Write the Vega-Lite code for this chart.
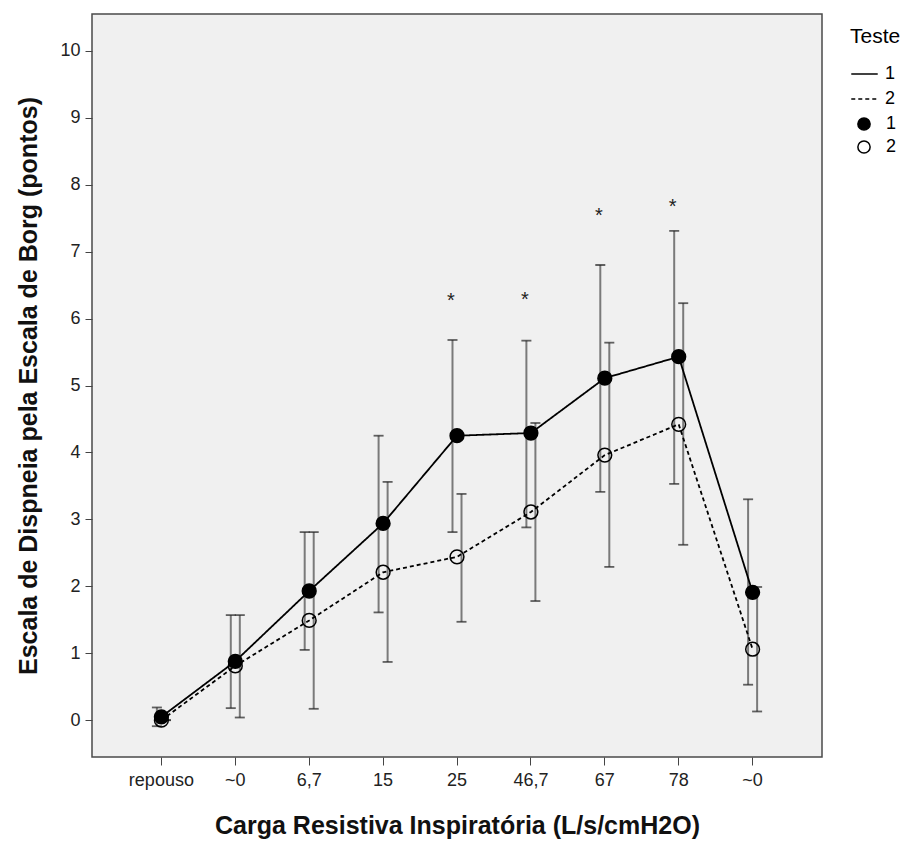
{
  "$schema": "https://vega.github.io/schema/vega-lite/v6.json",
  "width": 730,
  "height": 743,
  "autosize": {"type": "none"},
  "padding": {"left": 92, "top": 14, "right": 86, "bottom": 85},
  "background": "white",
  "config": {
    "font": "Liberation Sans",
    "view": {"fill": "#f0f0f0", "stroke": "#4a4a4a", "strokeWidth": 1.5},
    "axis": {"domain": false, "grid": false, "tickColor": "#444444", "labelColor": "#222222", "titleColor": "#111111", "labelFontSize": 18, "titleFontSize": 25, "titleFontWeight": "bold"}
  },
  "datasets": {
    "dados": [
      {"carga": "repouso", "teste": "1", "media": 0.05, "inf": -0.09, "sup": 0.19},
      {"carga": "~0", "teste": "1", "media": 0.88, "inf": 0.18, "sup": 1.57},
      {"carga": "6,7", "teste": "1", "media": 1.93, "inf": 1.05, "sup": 2.81},
      {"carga": "15", "teste": "1", "media": 2.94, "inf": 1.61, "sup": 4.25},
      {"carga": "25", "teste": "1", "media": 4.25, "inf": 2.81, "sup": 5.68},
      {"carga": "46,7", "teste": "1", "media": 4.29, "inf": 2.88, "sup": 5.67},
      {"carga": "67", "teste": "1", "media": 5.11, "inf": 3.41, "sup": 6.80},
      {"carga": "78", "teste": "1", "media": 5.43, "inf": 3.53, "sup": 7.31},
      {"carga": "~0 (pós)", "teste": "1", "media": 1.91, "inf": 0.53, "sup": 3.30},
      {"carga": "repouso", "teste": "2", "media": 0.0, "inf": 0.0, "sup": 0.0},
      {"carga": "~0", "teste": "2", "media": 0.81, "inf": 0.04, "sup": 1.57},
      {"carga": "6,7", "teste": "2", "media": 1.49, "inf": 0.17, "sup": 2.81},
      {"carga": "15", "teste": "2", "media": 2.21, "inf": 0.87, "sup": 3.56},
      {"carga": "25", "teste": "2", "media": 2.44, "inf": 1.47, "sup": 3.38},
      {"carga": "46,7", "teste": "2", "media": 3.11, "inf": 1.78, "sup": 4.44},
      {"carga": "67", "teste": "2", "media": 3.96, "inf": 2.29, "sup": 5.64},
      {"carga": "78", "teste": "2", "media": 4.42, "inf": 2.62, "sup": 6.23},
      {"carga": "~0 (pós)", "teste": "2", "media": 1.06, "inf": 0.13, "sup": 1.99}
    ],
    "asteriscos": [
      {"carga": "25", "y": 6.32, "txt": "*"},
      {"carga": "46,7", "y": 6.34, "txt": "*"},
      {"carga": "67", "y": 7.59, "txt": "*"},
      {"carga": "78", "y": 7.73, "txt": "*"}
    ]
  },
  "encoding": {
    "x": {
      "field": "carga", "type": "ordinal",
      "sort": ["repouso", "~0", "6,7", "15", "25", "46,7", "67", "78", "~0 (pós)"],
      "scale": {"type": "band", "paddingInner": 0.878, "paddingOuter": 0.878},
      "axis": {"title": "Carga Resistiva Inspiratória (L/s/cmH2O)", "labelAngle": 0, "tickSize": 8, "labelPadding": 6, "titlePadding": 24, "labelExpr": "datum.label == '~0 (pós)' ? '~0' : datum.label"}
    }
  },
  "layer": [
    {
      "data": {"name": "dados"},
      "mark": {"type": "rule", "stroke": "#7a7a7a", "strokeWidth": 2},
      "encoding": {
        "xOffset": {"field": "teste", "type": "nominal", "scale": {"type": "point", "padding": 0}},
        "y": {"field": "inf", "type": "quantitative", "scale": {"domain": [-0.55, 10.55], "nice": false, "zero": false},
          "axis": {"title": "Escala de Dispneia pela Escala de Borg (pontos)", "values": [0,1,2,3,4,5,6,7,8,9,10], "format": "d", "tickSize": 7, "labelPadding": 5, "titlePadding": 18}},
        "y2": {"field": "sup"}
      }
    },
    {
      "data": {"name": "dados"},
      "mark": {"type": "tick", "color": "#222222", "thickness": 1.8, "size": 10, "orient": "horizontal"},
      "encoding": {
        "xOffset": {"field": "teste", "type": "nominal", "scale": {"type": "point", "padding": 0}},
        "y": {"field": "sup", "type": "quantitative"}
      }
    },
    {
      "data": {"name": "dados"},
      "mark": {"type": "tick", "color": "#222222", "thickness": 1.8, "size": 10, "orient": "horizontal"},
      "encoding": {
        "xOffset": {"field": "teste", "type": "nominal", "scale": {"type": "point", "padding": 0}},
        "y": {"field": "inf", "type": "quantitative"}
      }
    },
    {
      "data": {"name": "dados"},
      "mark": {"type": "line", "stroke": "black", "strokeWidth": 1.8},
      "encoding": {
        "y": {"field": "media", "type": "quantitative"},
        "detail": {"field": "teste"},
        "strokeDash": {"field": "teste", "type": "nominal",
          "scale": {"domain": ["1", "2"], "range": [[1, 0], [4, 3]]},
          "legend": {"title": "Teste", "orient": "none", "legendX": 758, "legendY": 12, "titleFontSize": 21, "titleFontWeight": "normal", "titleColor": "black", "labelFontSize": 18, "labelColor": "black", "symbolSize": 700, "symbolStrokeWidth": 1.6, "symbolStrokeColor": "black", "clipHeight": 14, "rowPadding": 7, "titlePadding": 20, "padding": 0, "labelOffset": 6}
        }
      }
    },
    {
      "data": {"name": "dados"},
      "mark": {"type": "point", "shape": "circle", "filled": true, "stroke": "black", "strokeWidth": 1.5, "size": 190, "opacity": 1},
      "encoding": {
        "y": {"field": "media", "type": "quantitative"},
        "fill": {"field": "teste", "type": "nominal", "scale": {"range": ["black", "transparent"]},
          "legend": {"title": null, "orient": "none", "legendX": 763, "legendY": 103, "labelFontSize": 18, "labelColor": "black", "symbolSize": 150, "symbolStrokeColor": "black", "symbolStrokeWidth": 1.5, "clipHeight": 14, "rowPadding": 5, "padding": 0, "labelOffset": 13}
        }
      }
    },
    {
      "data": {"name": "asteriscos"},
      "mark": {"type": "text", "fontSize": 20, "color": "#222222", "dx": -6, "dy": 4, "baseline": "middle"},
      "encoding": {
        "y": {"field": "y", "type": "quantitative"},
        "text": {"field": "txt"}
      }
    }
  ]
}
